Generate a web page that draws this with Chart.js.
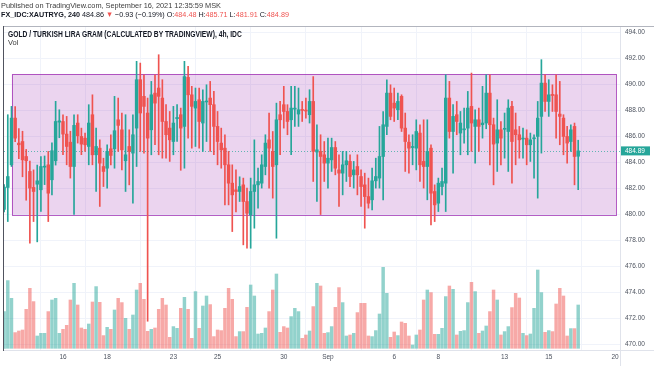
<!DOCTYPE html>
<html>
<head>
<meta charset="utf-8">
<script src="https://cdn.jsdelivr.net/npm/chart.js@4.4.1/dist/chart.umd.min.js"></script>
<style>
  body { margin: 0; background: #fff; overflow: hidden; font-family: "Liberation Sans", Arial, sans-serif; }
  #wrap { position: relative; width: 654px; height: 366px; }
  #c { position: absolute; left: 0; top: 0; }
  .t { position: absolute; white-space: nowrap; line-height: 1; transform-origin: 0 0; color: #131722; }
  .r { color: #ef5350; }
</style>
</head>
<body>
<div id="wrap">
  <canvas id="c" width="654" height="366"></canvas>
  <div class="t" style="left:1px;top:1.5px;font-size:8px;color:#3c3c3c;transform:scaleX(0.92)">Published on TradingView.com, September 16, 2021 12:35:59 MSK</div>
  <div class="t" style="left:1px;top:11px;font-size:8px;transform:scaleX(0.9)"><b>FX_IDC:XAUTRYG, 240</b> 484.86 <span class="r">&#9660;</span> &minus;0.93 (&minus;0.19%) O:<span class="r">484.48</span> H:<span class="r">485.71</span> L:<span class="r">481.91</span> C:<span class="r">484.89</span></div>
  <div class="t" style="left:8px;top:30px;font-size:8.5px;font-weight:bold;transform:scaleX(0.79)">GOLD / TURKISH LIRA GRAM (CALCULATED BY TRADINGVIEW), 4h, IDC</div>
  <div class="t" style="left:8px;top:39px;font-size:7.5px;color:#3c3c3c">Vol</div>
</div>
<script>
// 4h candles, Aug 11 08:00 .. Sep 16 08:00 (index 0..156)
const opens = [
  480.4, 482.08, 483.82, 487.41, 485.49, 485.61, 484.46, 483.31, 482.08, 482.33,
  481.9, 483.64, 483.82, 482.67, 484.13, 487.1, 487.15, 486.18, 485.56, 483.69,
  487.03, 486.0, 485.87, 485.23, 487.67, 484.59, 485.1, 483.69, 483.56, 485.05,
  485.05, 487.28, 486.51, 484.13, 485.23, 484.72, 486.64, 490.36, 489.08, 487.8,
  486.51, 489.33, 489.72, 488.95, 487.15, 486.64, 485.61, 487.36, 487.67, 486.77,
  490.54, 489.2, 488.18, 488.82, 487.03, 488.65, 488.95, 488.44, 486.77, 485.49,
  485.1, 483.82, 482.41, 481.9, 481.77, 482.28, 481.0, 479.97, 481.77, 482.28,
  482.41, 483.69, 485.74, 484.85, 483.82, 487.67, 488.44, 487.92, 487.28, 488.1,
  487.72, 488.05, 488.0, 487.67, 488.69, 484.8, 484.85, 484.59, 483.95, 484.2,
  485.15, 483.43, 483.18, 483.82, 484.08, 483.05, 483.69, 482.92, 482.28, 481.38,
  481.13, 482.59, 482.8, 484.46, 486.77, 489.33, 488.56, 488.05, 489.08, 486.64,
  485.56, 485.15, 485.1, 486.26, 484.08, 483.69, 485.1, 481.77, 480.87, 482.15,
  482.41, 488.95, 486.38, 487.67, 486.26, 486.51, 486.64, 488.31, 486.77, 487.28,
  486.9, 487.03, 489.33, 486.9, 485.49, 486.51, 486.55, 486.38, 488.31, 486.51,
  486.13, 485.8, 485.87, 485.36, 485.82, 486.0, 487.54, 490.1, 488.69, 489.2,
  489.2, 487.72, 487.41, 486.0, 485.61, 486.77, 484.48
];
const highs = [
  482.3, 487.67, 488.31, 488.3, 486.6, 486.4, 485.0, 484.1, 483.43, 483.8,
  484.46, 484.5, 484.85, 485.5, 488.7, 488.05, 487.67, 487.54, 486.4, 487.67,
  487.67, 486.64, 486.26, 488.44, 489.2, 486.64, 485.74, 484.33, 485.36, 486.13,
  489.08, 488.95, 487.8, 487.67, 486.51, 487.67, 491.77, 491.64, 490.74, 488.95,
  490.23, 490.74, 492.28, 490.36, 488.44, 487.92, 488.31, 488.44, 488.18, 491.77,
  491.38, 489.85, 489.72, 489.72, 489.59, 489.97, 490.23, 489.46, 487.92, 486.64,
  486.13, 484.85, 483.82, 483.43, 482.9, 482.8, 482.03, 482.8, 485.74, 483.56,
  484.59, 486.13, 487.8, 486.38, 488.56, 488.69, 489.85, 488.44, 489.85, 489.85,
  489.72, 488.69, 488.95, 489.59, 490.6, 486.9, 486.13, 485.61, 485.87, 485.87,
  485.61, 484.59, 484.85, 484.85, 484.59, 484.08, 484.59, 483.43, 483.18, 482.8,
  483.56, 484.33, 486.77, 487.92, 490.36, 489.97, 489.72, 489.33, 489.2, 487.8,
  486.13, 486.13, 487.28, 486.9, 487.28, 487.28, 485.36, 482.28, 482.8, 483.56,
  490.74, 490.23, 488.44, 488.69, 487.92, 488.18, 489.46, 490.87, 488.05, 488.18,
  489.85, 490.74, 490.74, 487.41, 488.82, 487.15, 487.8, 488.82, 488.69, 487.8,
  486.77, 486.64, 486.51, 486.26, 486.13, 488.69, 491.9, 490.74, 490.36, 489.97,
  490.74, 490.23, 487.67, 486.77, 486.9, 487.03, 485.71
];
const lows = [
  480.2, 479.46, 483.69, 485.6, 484.3, 482.9, 481.1, 477.8, 479.46, 477.9,
  480.23, 482.3, 479.46, 481.5, 483.8, 485.9, 484.6, 483.82, 482.8, 480.0,
  485.49, 484.6, 484.85, 483.82, 483.82, 481.77, 480.62, 482.15, 482.03, 483.82,
  483.56, 484.85, 483.43, 481.77, 482.28, 480.87, 483.69, 484.85, 484.72, 471.8,
  484.59, 485.36, 484.59, 484.33, 484.33, 484.08, 484.59, 485.61, 483.4, 483.56,
  485.87, 485.1, 485.23, 485.1, 484.85, 485.61, 484.85, 484.59, 483.82, 483.56,
  480.74, 480.74, 478.69, 480.2, 481.0, 477.67, 477.41, 477.41, 478.95, 480.49,
  482.03, 483.05, 482.03, 481.26, 478.18, 484.59, 486.64, 486.13, 484.59, 486.77,
  486.77, 487.15, 487.41, 487.03, 482.54, 481.0, 480.0, 482.54, 482.03, 483.31,
  483.05, 480.62, 481.51, 482.54, 482.15, 482.03, 481.51, 480.62, 478.95, 480.49,
  480.36, 482.03, 482.03, 481.13, 486.13, 487.28, 487.15, 487.28, 486.38, 483.31,
  483.18, 483.82, 483.43, 482.54, 482.03, 481.13, 479.21, 479.46, 480.23, 481.51,
  480.23, 485.87, 483.18, 486.13, 484.59, 485.49, 484.59, 484.85, 483.95, 484.85,
  485.87, 486.59, 483.82, 482.28, 483.31, 483.82, 484.33, 483.31, 482.41, 483.82,
  484.33, 484.33, 483.82, 484.08, 482.8, 481.26, 484.72, 487.92, 487.54, 487.92,
  485.87, 485.36, 484.59, 483.95, 484.85, 482.28, 481.91
];
const closes = [
  482.1, 482.92, 487.41, 485.87, 485.36, 484.2, 484.13, 482.03, 481.77, 482.59,
  483.69, 483.69, 481.64, 484.9, 487.15, 487.2, 486.18, 485.23, 483.69, 486.85,
  486.05, 485.41, 485.36, 487.03, 484.59, 485.23, 483.95, 483.31, 484.85, 484.54,
  486.44, 486.85, 484.97, 484.59, 484.85, 486.13, 490.36, 487.8, 488.31, 485.87,
  489.2, 488.56, 489.08, 487.15, 486.13, 485.74, 487.03, 487.46, 486.64, 490.6,
  489.2, 488.31, 488.69, 487.15, 488.69, 488.72, 488.44, 486.77, 485.61, 484.97,
  483.82, 482.41, 481.51, 481.77, 482.15, 481.0, 480.1, 481.77, 482.28, 482.54,
  483.82, 485.49, 485.1, 483.69, 487.28, 487.28, 487.92, 487.15, 488.18, 488.15,
  488.05, 488.0, 487.95, 488.69, 484.85, 484.97, 484.46, 483.95, 484.33, 485.15,
  483.56, 483.18, 483.82, 484.13, 482.92, 483.43, 483.05, 482.15, 481.38, 480.87,
  482.59, 482.92, 484.46, 486.9, 489.33, 487.54, 488.18, 488.69, 486.64, 485.61,
  485.1, 485.2, 486.38, 483.82, 483.69, 484.85, 481.64, 480.74, 482.41, 482.54,
  488.95, 486.38, 487.54, 487.15, 487.03, 486.55, 488.18, 487.03, 487.28, 486.77,
  487.03, 489.33, 486.9, 485.41, 486.51, 485.87, 486.6, 488.18, 485.61, 486.13,
  485.74, 485.85, 485.36, 485.74, 485.87, 487.41, 490.1, 488.69, 489.2, 489.15,
  487.92, 487.54, 486.0, 485.49, 486.51, 484.46, 484.89
];
const volumes = [
  36.7, 67.7, 50, 15.7, 17.3, 18.3, 39, 60, 46.7, 12.3,
  15, 15, 36.7, 48.3, 50, 15, 19, 23, 48.3, 65,
  43.3, 20.3, 19, 24.3, 46.3, 61.7, 46, 12.7, 21, 19,
  38.3, 50, 45.7, 30, 19, 33.3, 58.3, 65, 49, 17,
  19, 20.3, 39, 50, 43.3, 11, 21.7, 20, 40, 51,
  39, 10, 56.7, 20, 42.3, 52.3, 43.7, 11.7, 18.3, 17.7,
  40, 60, 49, 11.7, 16.7, 16.7, 41, 63.3, 52.3, 14.3,
  15, 20.3, 36.7, 58.3, 74.3, 16, 21.7, 20.3, 31.7, 40,
  36.7, 10, 13.3, 17.3, 41.7, 65, 62.3, 15, 15.7, 21.7,
  41, 60.7, 45.7, 12.3, 13.3, 15, 35.7, 45, 45, 12.3,
  11.7, 17.7, 34.3, 81, 55, 11, 16.3, 12.7, 26.3, 25,
  12.3, 3.3, 13.3, 18.3, 48.3, 58.3, 55.7, 14, 14, 20,
  51.7, 62.3, 59, 13.3, 17, 17.7, 45.7, 66, 56.7, 15,
  17.3, 22.3, 36.7, 58.3, 48.3, 13.3, 16.7, 21.7, 40.7, 55,
  50.3, 15, 12.7, 14.3, 40, 78.3, 55.7, 16, 17.7, 16.7,
  44.3, 60, 52.3, 12.3, 19.7, 19.7, 43.3
];

// time axis labels (candle index of the day's first bar)
const tickIndex = [16, 28, 46, 58, 76, 88, 106, 118, 136, 148, 166];
const tickLabels = ['16', '18', '23', '25', '30', 'Sep', '6', '8', '13', '15', '20'];

// drawn rectangle (candle index / price)
const boxFrom = 2.1, boxTo = 166.3, boxLow = 480.0, boxHigh = 490.8;
const lastPrice = 484.89;

const UP = '#26a69a', DOWN = '#ef5350';
const upDown = opens.map((o, i) => closes[i] >= o);
const candleColors = upDown.map(u => u ? UP : DOWN);
const volColors = upDown.map(u => u ? 'rgba(38,166,154,0.5)' : 'rgba(239,83,80,0.5)');

const overlay = {
  id: 'overlay',
  beforeDatasetsDraw(chart) {
    const { ctx, chartArea: a, scales: { x, y } } = chart;
    ctx.save();
    ctx.beginPath();
    ctx.rect(a.left, a.top, a.right - a.left, a.bottom - a.top);
    ctx.clip();
    const x1 = x.getPixelForValue(boxFrom), x2 = x.getPixelForValue(boxTo);
    const y1 = y.getPixelForValue(boxHigh), y2 = y.getPixelForValue(boxLow);
    ctx.fillStyle = 'rgba(156,39,176,0.2)';
    ctx.fillRect(x1, y1, x2 - x1, y2 - y1);
    ctx.strokeStyle = 'rgba(156,39,176,0.75)';
    ctx.lineWidth = 1;
    ctx.strokeRect(Math.round(x1) + 0.5, Math.round(y1) + 0.5, Math.round(x2 - x1), Math.round(y2 - y1));
    // last price line
    const py = Math.round(y.getPixelForValue(lastPrice)) + 0.5;
    ctx.strokeStyle = 'rgba(38,166,154,0.7)';
    ctx.setLineDash([1, 2]);
    ctx.beginPath();
    ctx.moveTo(a.left, py);
    ctx.lineTo(a.right, py);
    ctx.stroke();
    ctx.restore();
  },
  afterDraw(chart) {
    const { ctx, chartArea: a, scales: { y } } = chart;
    ctx.save();
    ctx.lineWidth = 1;
    ctx.strokeStyle = '#e0e3eb';
    ctx.beginPath();
    ctx.moveTo(a.right + 0.5, a.top);
    ctx.lineTo(a.right + 0.5, 366);
    ctx.moveTo(a.left, a.bottom + 0.5);
    ctx.lineTo(654, a.bottom + 0.5);
    ctx.stroke();
    ctx.strokeStyle = '#b2b5be';
    ctx.beginPath();
    ctx.moveTo(a.left, a.top - 0.5);
    ctx.lineTo(654, a.top - 0.5);
    ctx.stroke();
    ctx.strokeStyle = '#50535e';
    ctx.beginPath();
    ctx.moveTo(a.left - 0.5, a.top - 1);
    ctx.lineTo(a.left - 0.5, a.bottom + 1);
    ctx.stroke();
    // last price label
    const py = y.getPixelForValue(lastPrice);
    ctx.fillStyle = UP;
    ctx.fillRect(a.right + 1, py - 4.5, 29, 9);
    ctx.fillStyle = '#fff';
    ctx.font = '6.5px "Liberation Sans", Arial, sans-serif';
    ctx.textBaseline = 'middle';
    ctx.fillText(lastPrice.toFixed(2), a.right + 5, py + 0.5);
    ctx.restore();
  }
};

new Chart(document.getElementById('c'), {
  type: 'bar',
  data: {
    datasets: [
      {
        label: 'Vol',
        yAxisID: 'yv',
        data: volumes.map((v, i) => ({ x: i, y: v })),
        backgroundColor: volColors,
        barThickness: 2.8,
        grouped: false,
        order: 3
      },
      {
        label: 'wick',
        data: lows.map((l, i) => ({ x: i, y: [l, highs[i]] })),
        backgroundColor: candleColors,
        barThickness: 1,
        grouped: false,
        order: 2
      },
      {
        label: 'body',
        data: opens.map((o, i) => ({ x: i, y: [o, closes[i]] })),
        backgroundColor: candleColors,
        barThickness: 2.8,
        minBarLength: 1,
        grouped: false,
        order: 1
      }
    ]
  },
  options: {
    responsive: false,
    animation: false,
    layout: { padding: { left: 4, top: 27, right: 0, bottom: 0 } },
    plugins: { legend: { display: false }, tooltip: { enabled: false } },
    scales: {
      x: {
        type: 'linear',
        min: -0.03,
        max: 167.36,
        offset: false,
        afterFit(s) { s.height = 16; },
        afterBuildTicks(s) { s.ticks = tickIndex.map(v => ({ value: v })); },
        ticks: {
          autoSkip: false,
          maxRotation: 0,
          padding: 3,
          color: '#4c525e',
          font: { size: 6.5, family: '"Liberation Sans", Arial, sans-serif' },
          callback: (v, i) => tickLabels[i]
        },
        grid: { color: '#f0f3fa', drawTicks: false },
        border: { display: false }
      },
      y: {
        position: 'right',
        min: 469.59,
        max: 494.41,
        afterFit(s) { s.width = 34; },
        ticks: {
          stepSize: 2,
          includeBounds: false,
          padding: 5,
          color: '#4c525e',
          font: { size: 6.5, family: '"Liberation Sans", Arial, sans-serif' },
          callback: v => v.toFixed(2)
        },
        grid: { color: '#f0f3fa', drawTicks: false },
        border: { display: false }
      },
      yv: {
        display: false,
        min: -1.7,
        max: 321.3
      }
    }
  },
  plugins: [overlay]
});
</script>
</body>
</html>
